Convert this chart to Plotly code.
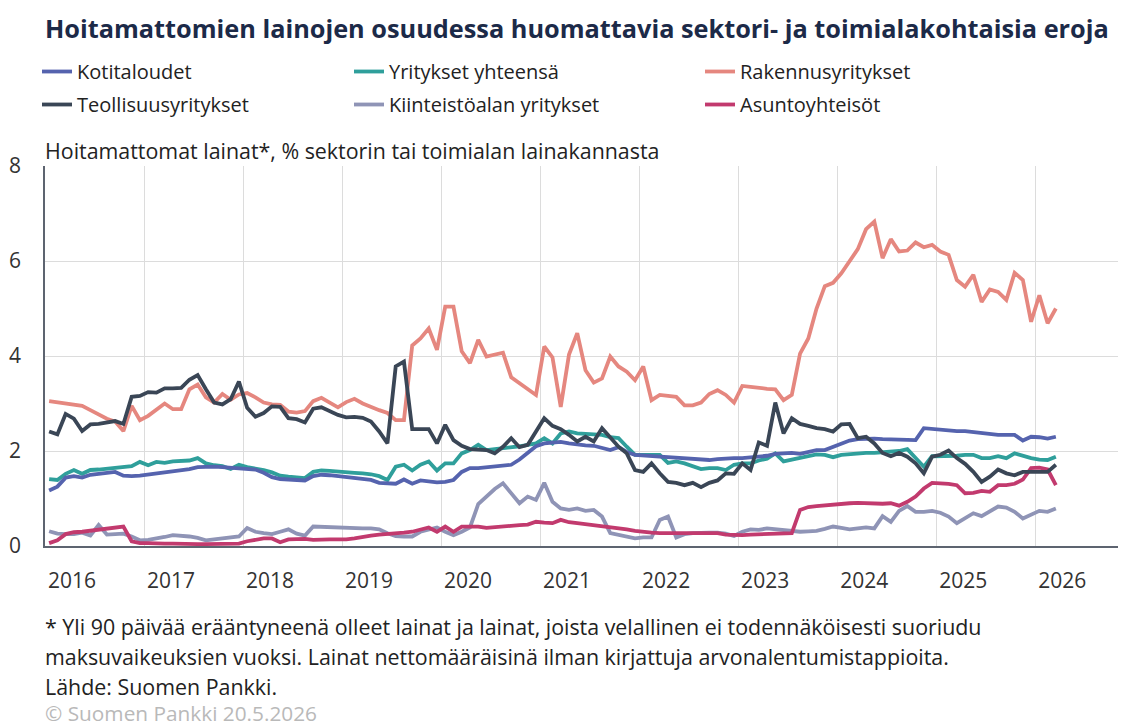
import plotly.graph_objects as go

# ---------------- data (monthly observations, % of sector / industry loan stock) ----------------
years = ["2016", "2017", "2018", "2019", "2020", "2021", "2022", "2023", "2024", "2025", "2026"]

kotitaloudet = [
    1.17, 1.25, 1.44, 1.47, 1.44, 1.50, 1.52, 1.54, 1.56, 1.48, 1.47, 1.48,
    1.50, 1.52, 1.55, 1.57, 1.58, 1.62, 1.66, 1.67, 1.67, 1.66, 1.65, 1.65,
    1.64, 1.61, 1.54, 1.45, 1.41, 1.40, 1.39, 1.38, 1.47, 1.50, 1.49, 1.47,
    1.45, 1.43, 1.42, 1.39, 1.33, 1.31, 1.31, 1.40, 1.31, 1.38, 1.35, 1.34,
    1.35, 1.39, 1.56, 1.64, 1.64, 1.66, 1.68, 1.71, 1.71, 1.82, 1.95, 2.10,
    2.16, 2.18, 2.19, 2.16, 2.13, 2.12, 2.11, 2.07, 2.02, 2.08, 1.98, 1.92,
    1.90, 1.89, 1.88, 1.87, 1.86, 1.85, 1.85, 1.84, 1.81, 1.83, 1.85, 1.85,
    1.85, 1.86, 1.88, 1.90, 1.94, 1.95, 1.96, 1.94, 1.99, 2.02, 2.02, 2.09,
    2.16, 2.22, 2.25, 2.26, 2.26, 2.25, 2.25, 2.25, 2.24, 2.23, 2.48, 2.46,
    2.44, 2.43, 2.42, 2.42, 2.40, 2.37, 2.35, 2.34, 2.34, 2.34, 2.22, 2.30,
    2.29, 2.26, 2.30,
]

yritykset = [
    1.41, 1.39, 1.52, 1.60, 1.52, 1.60, 1.61, 1.63, 1.65, 1.66, 1.68, 1.77,
    1.70, 1.77, 1.75, 1.78, 1.78, 1.80, 1.85, 1.74, 1.70, 1.68, 1.62, 1.71,
    1.66, 1.64, 1.60, 1.55, 1.48, 1.46, 1.45, 1.43, 1.56, 1.59, 1.58, 1.56,
    1.55, 1.54, 1.53, 1.51, 1.47, 1.39, 1.67, 1.71, 1.59, 1.71, 1.78, 1.59,
    1.74, 1.74, 1.95, 2.02, 2.13, 2.02, 2.04, 2.06, 2.06, 2.10, 2.13, 2.16,
    2.27, 2.16, 2.37, 2.41, 2.37, 2.36, 2.37, 2.34, 2.29, 2.27, 2.09, 1.92,
    1.92, 1.92, 1.92, 1.75, 1.78, 1.74, 1.67, 1.62, 1.64, 1.64, 1.60, 1.71,
    1.74, 1.74, 1.80, 1.84, 1.95, 1.78, 1.82, 1.86, 1.90, 1.93, 1.92, 1.87,
    1.92, 1.94, 1.96, 1.96, 1.96, 1.97, 1.99, 2.00, 2.04, 1.85, 1.67, 1.89,
    1.89, 1.89, 1.90, 1.92, 1.92, 1.85, 1.85, 1.89, 1.85, 1.95, 1.89, 1.85,
    1.82, 1.81, 1.88,
]

rakennus = [
    3.05, 3.03, 3.00, 2.99, 2.95, 2.86, 2.77, 2.68, 2.62, 2.42, 2.95, 2.65,
    2.74, 2.86, 3.00, 2.88, 2.88, 3.30, 3.40, 3.13, 3.02, 3.20, 3.08, 3.19,
    3.22, 3.13, 3.02, 2.98, 2.97, 2.83, 2.81, 2.84, 3.05, 3.12, 3.02, 2.92,
    3.03, 3.10, 3.00, 2.92, 2.86, 2.80, 2.65, 2.65, 4.22, 4.37, 4.58, 4.13,
    5.04, 5.04, 4.10, 3.85, 4.34, 3.99, 4.03, 4.07, 3.55, 3.43, 3.32, 3.18,
    4.20, 3.97, 2.93, 4.03, 4.48, 3.70, 3.44, 3.53, 3.99, 3.78, 3.67, 3.49,
    3.78, 3.07, 3.18, 3.16, 3.14, 2.96, 2.96, 3.02, 3.20, 3.28, 3.18, 3.02,
    3.37, 3.35, 3.32, 3.31, 3.30, 3.07, 3.18, 4.05, 4.37, 5.00, 5.47, 5.54,
    5.74, 6.00, 6.25, 6.67, 6.83, 6.06, 6.46, 6.20, 6.22, 6.39, 6.29, 6.34,
    6.20, 6.13, 5.60, 5.46, 5.71, 5.14, 5.40, 5.35, 5.18, 5.75, 5.60, 4.72,
    5.28, 4.69, 5.00,
]

teollisuus = [
    2.41, 2.35, 2.78, 2.68, 2.42, 2.56, 2.57, 2.60, 2.63, 2.57, 3.14, 3.16,
    3.24, 3.23, 3.32, 3.32, 3.33, 3.50, 3.60, 3.30, 3.02, 2.98, 3.09, 3.46,
    2.91, 2.72, 2.80, 2.94, 2.93, 2.69, 2.67, 2.60, 2.89, 2.92, 2.84, 2.76,
    2.71, 2.72, 2.70, 2.62, 2.41, 2.16, 3.78, 3.88, 2.46, 2.46, 2.46, 2.16,
    2.55, 2.23, 2.11, 2.04, 2.02, 2.02, 1.95, 2.09, 2.27, 2.08, 2.13, 2.41,
    2.69, 2.53, 2.46, 2.34, 2.20, 2.30, 2.20, 2.48, 2.27, 2.09, 1.95, 1.60,
    1.56, 1.74, 1.53, 1.35, 1.33, 1.28, 1.33, 1.24, 1.33, 1.38, 1.53, 1.52,
    1.74, 1.60, 2.18, 2.11, 3.02, 2.37, 2.69, 2.57, 2.53, 2.48, 2.46, 2.41,
    2.56, 2.57, 2.27, 2.30, 2.16, 1.96, 1.89, 1.96, 1.88, 1.74, 1.53, 1.88,
    1.92, 2.01, 1.85, 1.73, 1.56, 1.35, 1.46, 1.61, 1.53, 1.49, 1.56, 1.56,
    1.56, 1.56, 1.71,
]

kiinteisto = [
    0.31, 0.26, 0.25, 0.25, 0.28, 0.22, 0.44, 0.24, 0.25, 0.26, 0.20, 0.12,
    0.13, 0.15, 0.19, 0.23, 0.22, 0.20, 0.17, 0.12, 0.14, 0.16, 0.17, 0.20,
    0.38, 0.30, 0.27, 0.25, 0.30, 0.35, 0.26, 0.22, 0.41, 0.40, 0.39, 0.38,
    0.37, 0.37, 0.37, 0.37, 0.35, 0.27, 0.21, 0.20, 0.20, 0.30, 0.35, 0.39,
    0.30, 0.23, 0.30, 0.39, 0.88, 1.04, 1.20, 1.32, 1.11, 0.90, 1.04, 0.97,
    1.33, 0.93, 0.79, 0.76, 0.79, 0.74, 0.76, 0.62, 0.27, 0.23, 0.20, 0.16,
    0.18, 0.18, 0.55, 0.62, 0.18, 0.25, 0.27, 0.28, 0.28, 0.28, 0.26, 0.21,
    0.30, 0.35, 0.34, 0.37, 0.35, 0.33, 0.32, 0.30, 0.31, 0.32, 0.36, 0.41,
    0.38, 0.35, 0.37, 0.39, 0.37, 0.63, 0.51, 0.74, 0.84, 0.72, 0.72, 0.74,
    0.70, 0.62, 0.48, 0.58, 0.69, 0.63, 0.72, 0.83, 0.81, 0.72, 0.58, 0.65,
    0.74, 0.72, 0.79,
]

asunto = [
    0.06, 0.12, 0.25, 0.29, 0.30, 0.32, 0.34, 0.38, 0.40, 0.41, 0.10, 0.06,
    0.06, 0.05, 0.05, 0.05, 0.04, 0.04, 0.04, 0.04, 0.04, 0.04, 0.04, 0.05,
    0.10, 0.14, 0.16, 0.16, 0.08, 0.14, 0.15, 0.15, 0.13, 0.14, 0.14, 0.14,
    0.14, 0.16, 0.20, 0.22, 0.24, 0.25, 0.27, 0.28, 0.30, 0.34, 0.39, 0.30,
    0.41, 0.30, 0.41, 0.41, 0.41, 0.38, 0.40, 0.42, 0.44, 0.44, 0.45, 0.51,
    0.49, 0.48, 0.55, 0.50, 0.48, 0.46, 0.44, 0.43, 0.41, 0.38, 0.35, 0.32,
    0.29, 0.28, 0.27, 0.27, 0.27, 0.27, 0.28, 0.28, 0.28, 0.27, 0.24, 0.23,
    0.23, 0.24, 0.25, 0.26, 0.27, 0.27, 0.27, 0.76, 0.82, 0.84, 0.86, 0.87,
    0.88, 0.90, 0.91, 0.90, 0.88, 0.89, 0.90, 0.85, 0.93, 1.04, 1.21, 1.33,
    1.32, 1.31, 1.28, 1.11, 1.12, 1.16, 1.14, 1.28, 1.28, 1.31, 1.40, 1.64,
    1.65, 1.61, 1.28,
]

series_names = ["Kotitaloudet", "Yritykset yhteensä", "Rakennusyritykset",
                "Teollisuusyritykset", "Kiinteistöalan yritykset", "Asuntoyhteisöt"]

# ---------------- styling ----------------
FONT = "Open Sans"
colors = {
    "Kotitaloudet": "#5563ae",
    "Yritykset yhteensä": "#2f9f9b",
    "Rakennusyritykset": "#e5877f",
    "Teollisuusyritykset": "#3a4656",
    "Kiinteistöalan yritykset": "#8f94b6",
    "Asuntoyhteisöt": "#c23a6e",
}
legend_of = {
    "Kotitaloudet": "legend", "Teollisuusyritykset": "legend",
    "Yritykset yhteensä": "legend2", "Kiinteistöalan yritykset": "legend2",
    "Rakennusyritykset": "legend3", "Asuntoyhteisöt": "legend3",
}
values = {
    "Kotitaloudet": kotitaloudet, "Yritykset yhteensä": yritykset,
    "Rakennusyritykset": rakennus, "Teollisuusyritykset": teollisuus,
    "Kiinteistöalan yritykset": kiinteisto, "Asuntoyhteisöt": asunto,
}
# drawing order (bottom to top)
draw_order = ["Rakennusyritykset", "Kiinteistöalan yritykset", "Asuntoyhteisöt",
              "Yritykset yhteensä", "Kotitaloudet", "Teollisuusyritykset"]
legend_rank = {n: i for i, n in enumerate(series_names)}

fig = go.Figure()
for name in draw_order:
    ys = values[name]
    fig.add_trace(go.Scatter(
        x=list(range(len(ys))), y=ys, name=name, mode="lines",
        line=dict(color=colors[name], width=3.8),
        legend=legend_of[name], legendrank=legend_rank[name],
        legendgroup=name,
    ))

label_pos = [2.77 + 12 * k for k in range(len(years))]

# The page body adds an 8 px offset; the figure is sized so it ends at the window edges.
OFF = 8
W, H = 1126 - OFF, 727 - OFF
L, R, T, B = 45 - OFF, 0, 166 - OFF, 727 - 546
ph = H - T - B
pw = W - L - R

def ypaper(py):          # py: pixel row in the final window
    return (H - B - (py - OFF)) / ph

def xpaper(px):          # px: pixel column in the final window
    return ((px - OFF) - L) / pw

legend_common = dict(
    orientation="v", xanchor="left", yanchor="top",
    font=dict(family=FONT, size=20, color="#222222"),
    bgcolor="rgba(0,0,0,0)", tracegroupgap=4, itemwidth=30,
)

fig.update_layout(
    width=W, height=H,
    margin=dict(l=L, r=R, t=T, b=B, pad=0),
    paper_bgcolor="white", plot_bgcolor="white",
    font=dict(family=FONT, color="#222222"),
    showlegend=True,
    legend=dict(x=xpaper(37), y=ypaper(52), **legend_common),
    legend2=dict(x=xpaper(349), y=ypaper(52), **legend_common),
    legend3=dict(x=xpaper(700), y=ypaper(52), **legend_common),
    xaxis=dict(
        range=[-0.5, 130.5],
        tickmode="array", tickvals=label_pos, ticktext=years,
        showgrid=False, ticks="",
        tickfont=dict(family=FONT, size=21, color="#333333"),
        ticklabelstandoff=15,
        showline=True, linecolor="#5d6470", linewidth=2,
        minor=dict(tick0=-0.5, dtick=12, showgrid=True,
                   gridcolor="#dcdcdc", gridwidth=1, ticks=""),
        zeroline=False, fixedrange=True,
    ),
    yaxis=dict(
        range=[0, 8], tickmode="linear", tick0=0, dtick=2,
        showgrid=True, gridcolor="#dcdcdc", gridwidth=1,
        tickfont=dict(family=FONT, size=21, color="#333333"),
        ticks="", ticklabelstandoff=18,
        showline=True, linecolor="#5d6470", linewidth=1.5,
        zeroline=False, fixedrange=True,
    ),
)

annotations = [
    dict(text="<b>Hoitamattomien lainojen osuudessa huomattavia sektori- ja toimialakohtaisia eroja</b>",
         x=xpaper(43), y=ypaper(28), font=dict(family=FONT, size=25.3, color="#1c2a48")),
    dict(text="Hoitamattomat lainat*, % sektorin tai toimialan lainakannasta",
         x=xpaper(43), y=ypaper(150), font=dict(family=FONT, size=21.4, color="#222222")),
    dict(text="* Yli 90 päivää erääntyneenä olleet lainat ja lainat, joista velallinen ei todennäköisesti suoriudu",
         x=xpaper(43), y=ypaper(626), font=dict(family=FONT, size=21.4, color="#222222")),
    dict(text="maksuvaikeuksien vuoksi. Lainat nettomääräisinä ilman kirjattuja arvonalentumistappioita.",
         x=xpaper(43), y=ypaper(656), font=dict(family=FONT, size=21.4, color="#222222")),
    dict(text="Lähde: Suomen Pankki.",
         x=xpaper(43), y=ypaper(686), font=dict(family=FONT, size=21.4, color="#222222")),
    dict(text="© Suomen Pankki 20.5.2026",
         x=xpaper(43), y=ypaper(713), font=dict(family=FONT, size=20.8, color="#b9b9b9")),
]
for a in annotations:
    a.update(xref="paper", yref="paper", xanchor="left", yanchor="middle",
             showarrow=False, align="left")
fig.update_layout(annotations=annotations)

fig.write_html("out.html", config={"displayModeBar": False})
